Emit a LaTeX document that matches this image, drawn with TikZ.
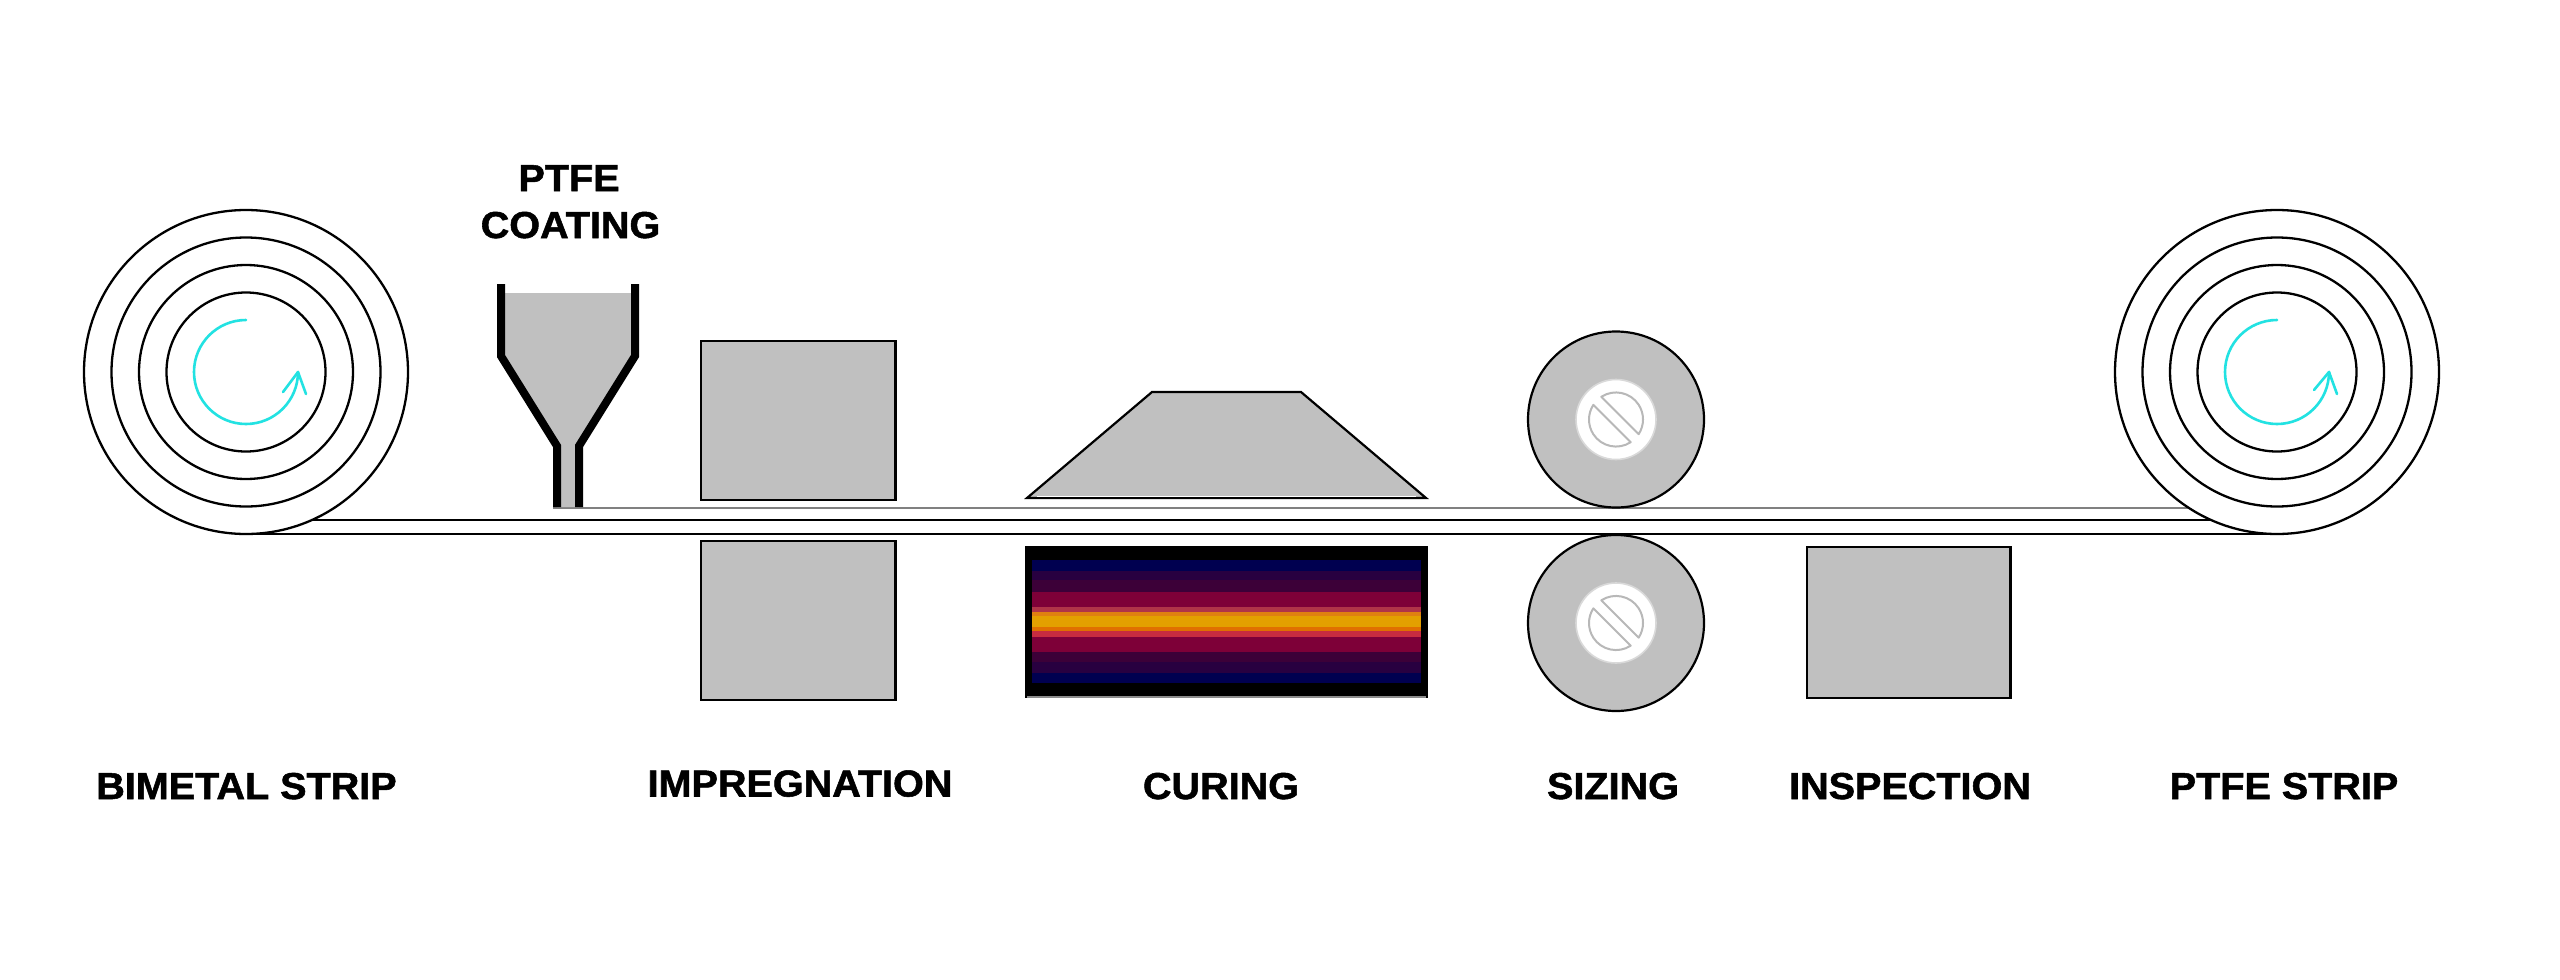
\documentclass[tikz,border=0pt]{standalone}
\usepackage{fontspec}
\setmainfont[BoldFeatures={FakeBold=1.4}]{Liberation Sans}
\definecolor{pgray}{HTML}{C0C0C0}
\definecolor{spin}{HTML}{22E2E2}
\definecolor{navyband}{HTML}{000050}
\tikzset{
  roll/.style={circle,draw=black,line width=2.3pt,inner sep=0pt,outer sep=0pt,minimum size=#1,fill=white},
  ring/.style={circle,draw=black,line width=2.3pt,inner sep=0pt,outer sep=0pt,minimum size=#1},
  strip/.style={draw=black,line width=2.2pt},
  coatline/.style={draw=black!50,line width=2.2pt},
  graybox/.style={draw=black,line width=2.4pt,fill=pgray,inner sep=0pt,outer sep=0pt,rectangle},
  spinarrow/.style={draw=spin,line width=2.6pt,line cap=round,line join=round},
  caption/.style={font=\fontsize{37.5pt}{37.5pt}\selectfont\bfseries,anchor=base,inner sep=0pt,outer sep=0pt,xscale=#1},
  caption/.default=1.055,
  pin/.style={draw=black!28,line width=2pt,line join=round}
}
\begin{document}
\begin{tikzpicture}[x=1pt,y=-1pt]
\useasboundingbox (0,0) rectangle (2560,980);
% strip lines
\coordinate (coatL) at (553,508);
\coordinate (coatR) at (2200,508);
\coordinate (upL) at (300,520);
\coordinate (upR) at (2230,520);
\coordinate (lowL) at (246,534);
\coordinate (lowR) at (2277,534);
\draw[coatline] (coatL) -- (coatR);
\draw[strip] (upL) -- (upR);
\draw[strip] (lowL) -- (lowR);
% left roll
\node[roll=324pt] (rollA) at (246,372) {};
\node[ring=269pt] (rollAb) at (rollA) {};
\node[ring=214pt] (rollAc) at (rollA) {};
\node[ring=159pt] (rollAd) at (rollA) {};
\coordinate (tipA) at (298,372);
\draw[spinarrow] (246,320) arc[start angle=-90,end angle=-360,radius=52];
\coordinate (barbA1) at (283,392);
\coordinate (barbA2) at (306,394);
\draw[spinarrow] (barbA1) -- (tipA) -- (barbA2);
% right roll
\node[roll=324pt] (rollB) at (2277,372) {};
\node[ring=269pt] (rollBb) at (rollB) {};
\node[ring=214pt] (rollBc) at (rollB) {};
\node[ring=159pt] (rollBd) at (rollB) {};
\coordinate (tipB) at (2329,372);
\draw[spinarrow] (2277,320) arc[start angle=-90,end angle=-360,radius=52];
\coordinate (barbB1) at (2314,390);
\coordinate (barbB2) at (2337,394);
\draw[spinarrow] (barbB1) -- (tipB) -- (barbB2);
% hopper
\fill[pgray] (501,293) -- (635,293) -- (635,356) -- (579,446) -- (579,507) -- (557,507) -- (557,446) -- (501,356) -- cycle;
\draw[black,line width=8pt,line join=miter] (501,284) -- (501,356) -- (557,446) -- (557,507);
\draw[black,line width=8pt,line join=miter] (635,284) -- (635,356) -- (579,446) -- (579,507);
% impregnation
\node[graybox,minimum width=194.7pt,minimum height=159pt] (impT) at (798.3,420.5) {};
\node[graybox,minimum width=194.7pt,minimum height=159pt] (impB) at (798.3,620.6) {};
% trapezoid
\draw[draw=black,line width=2.2pt,fill=pgray,line join=miter] (1027,498) -- (1152,392) -- (1301,392) -- (1426,498) -- cycle;
\draw[white,line width=1.1pt] (1037,496.2) -- (1416,496.2);
% heater
\fill[black] (1025,545.5) rectangle (1428,698);
\fill[black!45] (1027,696.2) rectangle (1426,698);
\fill[navyband] (1032,560) rectangle (1421,683);
\foreach \a/\b/\c in {570.7/580/280040,580/592/3C0038,592/607.3/7E0038,607.3/611.7/B03448,611.7/616/E08010,616/626.7/E3A000,626.7/630.7/E07000,630.7/636.7/C82C40,636.7/651.7/7E0038,651.7/661.7/3C0038,661.7/672.7/280040}{
  \definecolor{band}{HTML}{\c}
  \fill[band] (1032,\a) rectangle (1421,\b);
}
% sizing rollers
\foreach \n/\y in {rollUp/419.5,rollDn/623}{
  \node[circle,draw=black,line width=2.2pt,fill=pgray,minimum size=176pt,inner sep=0pt,outer sep=0pt] (\n) at (1616,\y) {};
  \node[circle,draw=black!15,line width=1.6pt,fill=white,minimum size=80pt,inner sep=0pt,outer sep=0pt] (\n hub) at (\n) {};
  \begin{scope}[shift={(\n)}]
  \draw[pin] (-14.7,-22.7) arc[start angle=-123,end angle=33,radius=27] -- cycle;
  \draw[pin] (14.7,22.7) arc[start angle=57,end angle=213,radius=27] -- cycle;
  \end{scope}
}
% inspection
\node[graybox,minimum width=203.5pt,minimum height=151pt] (insp) at (1908.7,622.5) {};
% labels
\node[caption] (lblA) at (246.5,799) {BIMETAL STRIP};
\node[caption] (lblB) at (800,796.5) {IMPREGNATION};
\node[caption] (lblC) at (1221,799) {CURING};
\node[caption] (lblD) at (1613,799) {SIZING};
\node[caption] (lblE) at (1910,799) {INSPECTION};
\node[caption] (lblF) at (2284,799) {PTFE STRIP};
\node[caption] (lblG) at (569,191) {PTFE};
\node[caption] (lblH) at (570.5,238) {COATING};
\end{tikzpicture}
\end{document}
